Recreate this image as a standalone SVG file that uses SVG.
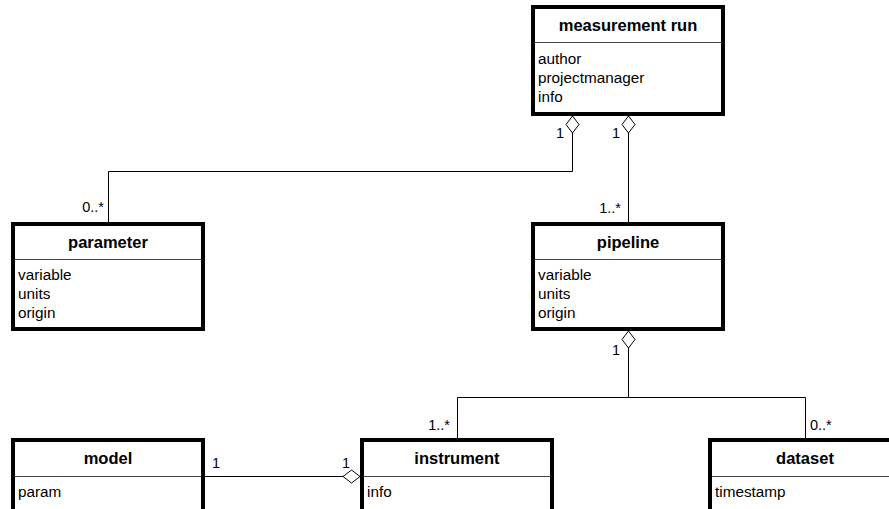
<svg xmlns="http://www.w3.org/2000/svg" width="889" height="509" viewBox="0 0 889 509">
<style>
.box{fill:#fff;stroke:#000;stroke-width:4}
.sep{stroke:#444;stroke-width:1}
.title{font-family:"Liberation Sans",Arial,sans-serif;font-weight:bold;font-size:16.5px;text-anchor:middle;fill:#000}
.attr{font-family:"Liberation Sans",Arial,sans-serif;font-size:15.3px;fill:#000}
.lbl{font-family:"Liberation Sans",Arial,sans-serif;font-size:14.5px;fill:#000}
.end{text-anchor:end}
.line{fill:none;stroke:#000;stroke-width:1}
.dia{fill:#fff;stroke:#000;stroke-width:1}
</style>
<rect width="889" height="509" fill="#fff"/>
<g id="connectors">
<path class="line" d="M572.5,133 V171.5 H108.5 V222"/>
<path class="line" d="M628.5,133 V222"/>
<path class="line" d="M628.5,348 V397.5"/>
<path class="line" d="M457.5,438 V397.5 H805.5 V438"/>
<path class="line" d="M205,476.5 H343"/>
<path class="dia" d="M572.5,116 L579,124.5 L572.5,133 L566,124.5 Z"/>
<path class="dia" d="M628.5,116 L635,124.5 L628.5,133 L622,124.5 Z"/>
<path class="dia" d="M628.5,331 L635,339.5 L628.5,348 L622,339.5 Z"/>
<path class="dia" d="M360,476.5 L351.5,483 L343,476.5 L351.5,470 Z"/>
<text class="lbl end" x="564" y="138">1</text>
<text class="lbl end" x="620" y="138">1</text>
<text class="lbl end" x="104" y="212">0..*</text>
<text class="lbl end" x="621" y="213">1..*</text>
<text class="lbl end" x="620" y="355">1</text>
<text class="lbl end" x="450" y="430">1..*</text>
<text class="lbl" x="810" y="430">0..*</text>
<text class="lbl" x="212" y="468">1</text>
<text class="lbl" x="342" y="468">1</text>
</g>
<g id="measurement-run">
<rect class="box" x="533" y="7" width="190" height="107"/>
<line class="sep" x1="535" y1="42.5" x2="721" y2="42.5"/>
<text class="title" x="628" y="31">measurement run</text>
<text class="attr" x="538" y="64">author</text>
<text class="attr" x="538" y="83">projectmanager</text>
<text class="attr" x="538" y="102">info</text>
</g>
<g id="parameter">
<rect class="box" x="13" y="224" width="190" height="105"/>
<line class="sep" x1="15" y1="259.5" x2="201" y2="259.5"/>
<text class="title" x="108" y="248">parameter</text>
<text class="attr" x="18" y="280">variable</text>
<text class="attr" x="18" y="299">units</text>
<text class="attr" x="18" y="318">origin</text>
</g>
<g id="pipeline">
<rect class="box" x="533" y="224" width="190" height="105"/>
<line class="sep" x1="535" y1="259.5" x2="721" y2="259.5"/>
<text class="title" x="628" y="248">pipeline</text>
<text class="attr" x="538" y="280">variable</text>
<text class="attr" x="538" y="299">units</text>
<text class="attr" x="538" y="318">origin</text>
</g>
<g id="model">
<rect class="box" x="13" y="440" width="190" height="100"/>
<line class="sep" x1="15" y1="476.5" x2="201" y2="476.5"/>
<text class="title" x="108" y="464">model</text>
<text class="attr" x="18" y="497">param</text>
</g>
<g id="instrument">
<rect class="box" x="362" y="440" width="190" height="100"/>
<line class="sep" x1="364" y1="476.5" x2="550" y2="476.5"/>
<text class="title" x="457" y="464">instrument</text>
<text class="attr" x="367" y="497">info</text>
</g>
<g id="dataset">
<rect class="box" x="710" y="440" width="190" height="100"/>
<line class="sep" x1="712" y1="476.5" x2="898" y2="476.5"/>
<text class="title" x="805" y="464">dataset</text>
<text class="attr" x="715" y="497">timestamp</text>
</g>
</svg>
